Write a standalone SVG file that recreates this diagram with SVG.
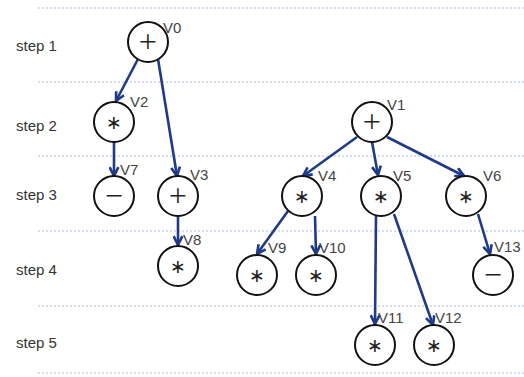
<svg xmlns="http://www.w3.org/2000/svg" width="524" height="377" viewBox="0 0 524 377">
<style>
.grid{stroke:#a9bde0;stroke-width:1.2;stroke-dasharray:2 2;fill:none}
.step{font-family:"Liberation Sans",Arial,sans-serif;font-size:15px;fill:#333}
.lbl{font-family:"Liberation Sans",Arial,sans-serif;font-size:15px;fill:#444}
.node circle{fill:#fff;stroke:#111;stroke-width:2}
.sym{fill:#222;text-anchor:middle}
.plus,.minus{font-family:"Noto Sans","DejaVu Sans",sans-serif;font-size:32px;font-weight:300}
.star{font-family:"DejaVu Sans",sans-serif;font-size:19px}
.edge{stroke:#1f3a86;stroke-width:2.6;fill:none;marker-end:url(#arr)}
</style>
<defs>
<marker id="arr" viewBox="0 0 10 10" refX="9" refY="5" markerWidth="11" markerHeight="11" markerUnits="userSpaceOnUse" orient="auto">
<path d="M1,1 L9,5 L1,9" fill="none" stroke="#1f3a86" stroke-width="2.4" stroke-linejoin="miter"/>
</marker>
</defs>
<rect width="524" height="377" fill="#fff"/>
<g id="grid">
<line class="grid" x1="38" y1="8" x2="524" y2="8"/>
<line class="grid" x1="38" y1="82" x2="524" y2="82"/>
<line class="grid" x1="38" y1="156" x2="524" y2="156"/>
<line class="grid" x1="38" y1="231" x2="524" y2="231"/>
<line class="grid" x1="38" y1="306" x2="524" y2="306"/>
<line class="grid" x1="38" y1="373" x2="524" y2="373"/>
</g>
<g id="steps">
<text class="step" x="16" y="51">step 1</text>
<text class="step" x="16" y="131">step 2</text>
<text class="step" x="16" y="200">step 3</text>
<text class="step" x="16" y="275">step 4</text>
<text class="step" x="16" y="348">step 5</text>
</g>
<g id="connectors">
<line class="edge" x1="138" y1="59" x2="116" y2="101"/>
<line class="edge" x1="158" y1="59" x2="177" y2="176"/>
<line class="edge" x1="114" y1="142" x2="114" y2="176"/>
<line class="edge" x1="178" y1="216" x2="178" y2="245"/>
<line class="edge" x1="357" y1="137" x2="303" y2="176"/>
<line class="edge" x1="372" y1="142" x2="378" y2="175"/>
<line class="edge" x1="387" y1="137" x2="464" y2="176"/>
<line class="edge" x1="288" y1="211" x2="257" y2="254"/>
<line class="edge" x1="315" y1="216" x2="316" y2="254"/>
<line class="edge" x1="376" y1="216" x2="375" y2="324"/>
<line class="edge" x1="394" y1="214" x2="433" y2="325"/>
<line class="edge" x1="478" y1="214" x2="490" y2="254"/>
</g>
<g id="V0" class="node"><circle cx="148" cy="42" r="20"/><text class="sym plus" x="148" y="53">+</text><text class="lbl" x="163" y="33">V0</text></g>
<g id="V2" class="node"><circle cx="114" cy="122" r="20"/><text class="sym star" x="114" y="129">∗</text><text class="lbl" x="130" y="107">V2</text></g>
<g id="V7" class="node"><circle cx="114" cy="196" r="20"/><text class="sym minus" x="114" y="207">−</text><text class="lbl" x="120" y="175">V7</text></g>
<g id="V3" class="node"><circle cx="178" cy="196" r="20"/><text class="sym plus" x="178" y="207">+</text><text class="lbl" x="190" y="180">V3</text></g>
<g id="V8" class="node"><circle cx="178" cy="266" r="20"/><text class="sym star" x="178" y="273">∗</text><text class="lbl" x="183" y="245">V8</text></g>
<g id="V1" class="node"><circle cx="372" cy="122" r="20"/><text class="sym plus" x="372" y="133">+</text><text class="lbl" x="387" y="110">V1</text></g>
<g id="V4" class="node"><circle cx="302" cy="196" r="20"/><text class="sym star" x="302" y="203">∗</text><text class="lbl" x="318" y="181">V4</text></g>
<g id="V5" class="node"><circle cx="381" cy="196" r="20"/><text class="sym star" x="381" y="203">∗</text><text class="lbl" x="393" y="181">V5</text></g>
<g id="V6" class="node"><circle cx="466" cy="196" r="20"/><text class="sym star" x="466" y="203">∗</text><text class="lbl" x="483" y="181">V6</text></g>
<g id="V9" class="node"><circle cx="257" cy="275" r="20"/><text class="sym star" x="257" y="282">∗</text><text class="lbl" x="268" y="253">V9</text></g>
<g id="V10" class="node"><circle cx="316" cy="275" r="20"/><text class="sym star" x="316" y="282">∗</text><text class="lbl" x="319" y="253">V10</text></g>
<g id="V13" class="node"><circle cx="493" cy="275" r="20"/><text class="sym minus" x="493" y="286">−</text><text class="lbl" x="494" y="252">V13</text></g>
<g id="V11" class="node"><circle cx="375" cy="345" r="20"/><text class="sym star" x="375" y="352">∗</text><text class="lbl" x="378" y="323">V11</text></g>
<g id="V12" class="node"><circle cx="434" cy="345" r="20"/><text class="sym star" x="434" y="352">∗</text><text class="lbl" x="435" y="323">V12</text></g>
</svg>
